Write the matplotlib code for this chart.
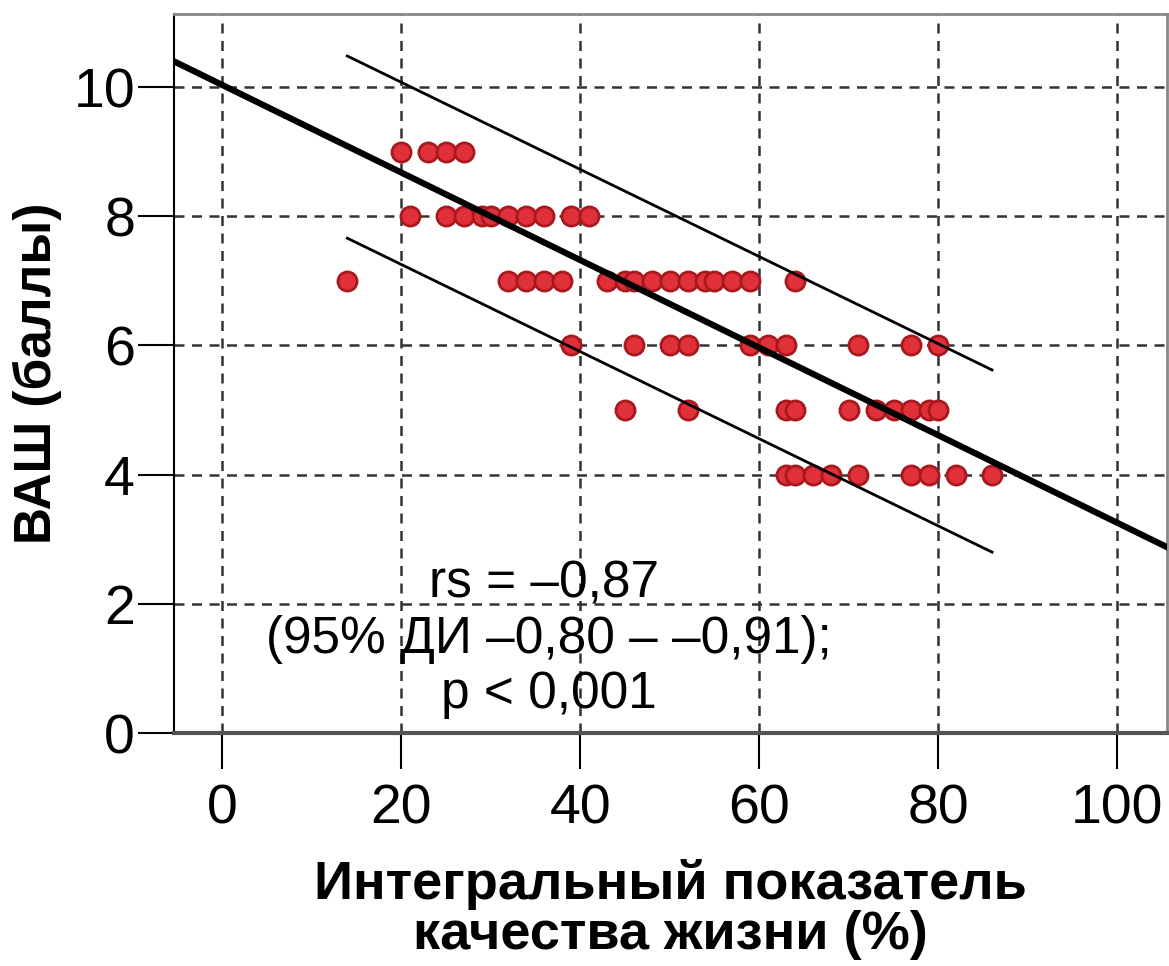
import matplotlib.pyplot as plt

plt.rcParams['font.family'] = ['Liberation Sans', 'DejaVu Sans']

# data
x_9 = [20, 23, 25, 27]
x_8 = [21, 25, 27, 29, 30, 32, 34, 36, 39, 41]
x_7 = [14, 32, 34, 36, 38, 43, 45, 46, 48, 50, 52, 54, 55, 57, 59, 64]
x_6 = [39, 46, 50, 52, 59, 61, 63, 71, 77, 80]
x_5 = [45, 52, 63, 64, 70, 73, 75, 77, 79, 80]
x_4 = [63, 64, 66, 68, 71, 77, 79, 82, 86]

fit_x = [-5.4, 105.5]
fit_y = [10.4, 2.88]
band_x = [14, 86]
upper_y = [10.48, 5.62]
lower_y = [7.66, 2.80]

xs = []
ys = []
for val, row in [(9, x_9), (8, x_8), (7, x_7), (6, x_6), (5, x_5), (4, x_4)]:
    xs += row
    ys += [val] * len(row)

fig = plt.figure(figsize=(11.69, 9.66), dpi=100)
ax = fig.add_axes([0.1488, 0.2412, 0.8492, 0.7443])

ax.grid(True, linestyle=(0, (4, 3)), color='#333333', linewidth=1.8)
ax.set_axisbelow(True)

ax.plot(fit_x, fit_y, color='black', linewidth=4.5, zorder=4)
ax.plot(band_x, upper_y, color='black', linewidth=2, zorder=4)
ax.plot(band_x, lower_y, color='black', linewidth=2, zorder=4)
ax.scatter(xs, ys, s=190, color='#e0303a', edgecolors='#a8181d', linewidths=2, zorder=3)

ax.set_xlim(-5.36, 105.5)
ax.set_ylim(0, 11.13)
ax.set_xticks([0, 20, 40, 60, 80, 100])
ax.set_yticks([0, 2, 4, 6, 8, 10])
ax.tick_params(axis='both', labelsize=40, length=26, width=1.5)
ax.tick_params(axis='x', pad=10)
ax.tick_params(axis='y', pad=2)

for side in ['top', 'right']:
    ax.spines[side].set_color('#888888')
    ax.spines[side].set_linewidth(2)
ax.spines['left'].set_linewidth(1.5)
ax.spines['bottom'].set_color('#555555')
ax.spines['bottom'].set_linewidth(3)

ax.text(36, 2.3, 'rs = –0,87', fontsize=37, ha='center', va='center')
ax.text(36.5, 1.45, '(95% ДИ –0,80 – –0,91);', fontsize=37, ha='center', va='center')
ax.text(36.5, 0.6, 'p < 0,001', fontsize=37, ha='center', va='center')

ax.set_ylabel('ВАШ (баллы)', fontsize=37, fontweight='bold', labelpad=8)
ax.set_xlabel('Интегральный показатель\nкачества жизни (%)', fontsize=39,
              fontweight='bold', labelpad=17, linespacing=1.0)

fig.savefig('out.png', dpi=100)
